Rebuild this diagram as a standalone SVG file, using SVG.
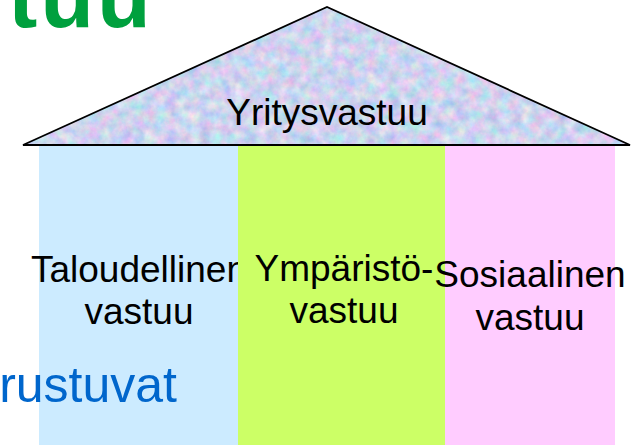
<svg xmlns="http://www.w3.org/2000/svg" width="636" height="445" viewBox="0 0 636 445">
  <style>
    .lbl { font-family: "Liberation Sans", Arial, sans-serif; font-size: 37px; fill: #000; text-anchor: middle; }
  </style>
  <defs>
    <filter id="marble" x="0" y="0" width="100%" height="100%" color-interpolation-filters="sRGB">
      <feTurbulence type="fractalNoise" baseFrequency="0.09" numOctaves="4" seed="7" result="n"/>
      <feColorMatrix in="n" type="matrix" values="0.45 0 0 0 0.58  0 0.3 0 0 0.68  0 0 0.15 0 0.86  0 0 0 0 1" result="c"/>
      <feComposite in="c" in2="SourceGraphic" operator="in"/>
    </filter>
  </defs>
  <rect width="636" height="445" fill="#ffffff"/>

  <text x="8" y="27" font-family="'Liberation Sans', Arial, sans-serif" font-size="88" font-weight="bold" letter-spacing="3" fill="#00A03E">tuu</text>

  <g id="roof">
    <polygon points="23,145 327,7 630,145" fill="#CDD3F2" filter="url(#marble)"/>
    <polygon points="23,145 327,7 630,145" fill="none" stroke="#000" stroke-width="1.8" stroke-linejoin="miter"/>
    <text class="lbl" x="327" y="125">Yritysvastuu</text>
  </g>

  <g id="taloudellinen">
    <rect x="39" y="146" width="199" height="299" fill="#CCEBFF"/>
    <text class="lbl" x="139" y="282">Taloudellinen</text>
    <text class="lbl" x="139" y="324">vastuu</text>
  </g>

  <g id="ymparisto">
    <rect x="238" y="146" width="207" height="299" fill="#CCFF66"/>
    <text class="lbl" x="344" y="281">Ympäristö-</text>
    <text class="lbl" x="344" y="323">vastuu</text>
  </g>

  <g id="sosiaalinen">
    <rect x="445" y="146" width="170" height="299" fill="#FFCCFF"/>
    <text class="lbl" x="530" y="287">Sosiaalinen</text>
    <text class="lbl" x="530" y="330">vastuu</text>
  </g>

  <text x="177" y="402" text-anchor="end" font-family="'Liberation Sans', Arial, sans-serif" font-size="50" fill="#0066CC">rustuvat</text>

  <g id="connectors"></g>
</svg>
